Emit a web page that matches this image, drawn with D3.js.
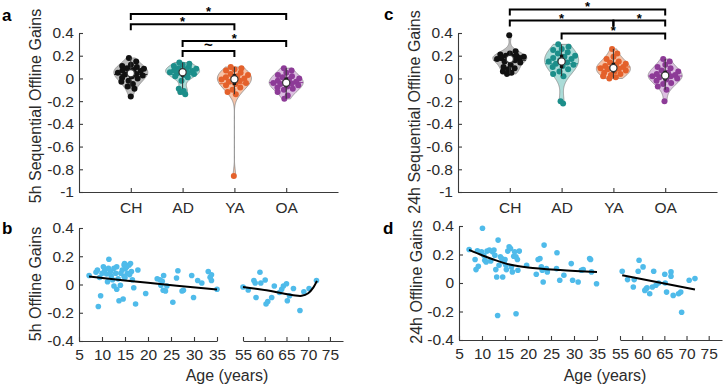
<!DOCTYPE html>
<html>
<body>
<script src="https://d3js.org/d3.v7.min.js"></script>
<style>
  body { margin:0; background:#fff; }
  svg text { font-family:"Liberation Sans", Arial, sans-serif; fill:#2b2b2b; }
  .axis path, .axis line { stroke:#3a3a3a; stroke-width:1.1px; }
  .axis text { font-size:15.5px; }
  .lbl { font-size:16px; }
  .letter { font-size:17px; font-weight:bold; fill:#000; }
</style>
<script>
// groups and colours
var groups = ['CH', 'AD', 'YA', 'OA'];
var dotColors = ['#111111', '#1c8e8a', '#e4612b', '#8d3b97'];
var fillColors = ['#bdbdbd', '#abdcd8', '#f6c3a8', '#dcbfe1'];

// 5h sequential offline gains per group
var ch5 = [0.18,0.15,0.12,0.11,0.10,0.09,0.085,0.075,0.07,0.065,0.055,0.05,0.04,0.035,0.025,0.02,0.005,0,-0.02,-0.03,-0.05,-0.07,-0.09,-0.16];
var ad5 = [0.14,0.13,0.12,0.11,0.10,0.09,0.085,0.08,0.07,0.065,0.06,0.055,0.05,0.045,0.04,0.03,0.02,0.01,-0.02,-0.09,-0.11,-0.12,-0.14];
var ya5 = [0.10,0.09,0.08,0.07,0.05,0.04,0.03,0.02,0.01,0.0,-0.005,-0.01,-0.02,-0.03,-0.04,-0.05,-0.06,-0.08,-0.10,-0.12,-0.14,-0.86];
var oa5 = [0.09,0.07,0.05,0.03,0.02,0.01,0,-0.01,-0.02,-0.03,-0.035,-0.04,-0.045,-0.05,-0.06,-0.07,-0.08,-0.09,-0.10,-0.12,-0.15,-0.18];

// 24h sequential offline gains per group
var ch24 = [0.38,0.24,0.22,0.21,0.20,0.20,0.19,0.19,0.18,0.18,0.17,0.17,0.16,0.15,0.14,0.12,0.10,0.09,0.08,0.06,0.05,0.04];
var ad24 = [0.30,0.28,0.26,0.25,0.23,0.22,0.20,0.19,0.18,0.17,0.16,0.15,0.14,0.13,0.12,0.11,0.10,0.08,0.06,0.04,0.02,-0.20,-0.22];
var ya24 = [0.26,0.22,0.19,0.17,0.15,0.14,0.13,0.12,0.11,0.10,0.095,0.09,0.085,0.08,0.07,0.06,0.05,0.04,0.03,0.02,0.01,0.0];
var oa24 = [0.17,0.15,0.12,0.10,0.09,0.07,0.06,0.05,0.04,0.03,0.03,0.02,0.02,0.01,0.0,-0.01,-0.02,-0.04,-0.05,-0.07,-0.10,-0.20];

// significance brackets: [from group, to group, bracket height, label]
var sig5 = [[0,3,0.567,'*'], [0,2,0.477,'*'], [1,3,0.33,'*'], [1,2,0.242,'~']];
var sig24 = [[0,3,0.608,'*'], [0,2,0.51,'*'], [2,3,0.51,'*'], [1,3,0.396,'*']];

// age scatter, 5h
var age5 = [7.2,8.7,9.0,9.7,9.2,10.3,10.6,11.0,11.4,11.5,11.9,12.3,12.6,13.0,13.2,12.6,13.2,13.7,14.6,14.1,
  14.4,14.8,14.9,15.1,15.4,15.5,15.9,16.2,16.4,14.8,16.9,17.3,16.6,17.8,19.5,22.0,22.6,22.8,23.1,23.3,
  23.4,23.8,24.1,26.5,26.2,25.4,27.4,27.7,29.5,29.9,30.8,31.7,33.1,33.5,33.8,33.8,35.0,
  9.5,10.0,12.0,13.5,15.0,16.0,11.2,14.0,
  55.0,56.2,57.5,57.8,58.0,58.9,59.1,60.1,60.3,60.7,61.6,62.2,63.4,63.9,64.3,65.0,65.2,65.7,66.6,68.1,69.0,70.2,71.9];
var gain5 = [0.064,0.087,0.103,-0.08,-0.156,0.126,0.099,0.074,0.115,0.179,0.092,0.034,0.115,0.08,0.126,-0.011,-0.034,-0.115,-0.103,0.08,
  0.103,0.138,0.149,0.115,0.126,0.08,0.138,0.149,0.092,0.057,-0.023,-0.138,0.034,0.103,-0.064,0.041,0.034,-0.005,0.023,-0.041,
  0.064,-0.046,-0.011,0.097,0.046,-0.126,-0.046,-0.041,0.064,-0.092,0.028,0.011,0.092,0.051,0.069,0.028,-0.034,
  0.05,0.08,0.06,0.04,0.05,0.07,0.02,-0.005,
  -0.018,-0.039,0.028,0.011,-0.092,0.087,0.011,0.032,-0.138,-0.12,-0.092,-0.011,-0.057,-0.034,-0.011,0.005,-0.115,-0.08,-0.028,-0.184,-0.051,-0.028,0.028];

// age scatter, 24h
var age24 = [7.2,8.5,8.7,9.2,9.0,10.1,9.9,10.4,10.6,10.9,11.1,11.6,11.9,12.3,12.6,12.8,13.0,13.2,13.5,13.4,
  13.7,14.0,14.3,14.5,14.8,15.0,15.2,15.3,15.6,15.9,16.2,16.4,16.6,16.9,17.1,17.4,17.4,17.7,17.8,18.1,
  19.7,21.8,22.2,22.6,22.9,23.1,23.3,23.5,24.0,24.2,26.2,26.3,26.9,27.8,29.4,29.7,30.9,31.6,32.0,33.4,33.6,33.8,34.9,
  55.5,56.7,58.0,58.2,59.3,59.1,60.2,60.6,60.9,61.1,61.7,62.3,62.6,63.1,63.7,65.1,65.2,65.5,66.5,66.5,67.0,68.2,68.7,68.9,70.6,71.9];
var gain24 = [0.235,0.165,0.094,0.118,0.226,0.384,0.219,0.195,0.16,0.148,0.224,0.231,0.155,0.219,0.231,0.195,0.094,0.042,0.301,-0.228,
  0.125,0.184,0.172,0.042,0.148,0.165,0.125,0.094,0.224,0.254,0.242,0.113,0.078,0.188,0.219,0.184,-0.216,0.165,0.089,0.224,
  0.125,0.061,0.165,0.172,0.113,0.089,0.007,0.266,0.101,0.078,0.101,0.212,0.019,0.054,0.136,0.019,0.007,0.089,0.094,0.172,0.165,0.078,-0.005,
  0.082,0.024,-0.028,0.024,0.16,0.082,0.113,-0.052,-0.04,-0.033,-0.075,-0.028,0.082,-0.016,0.0,0.061,0.0,-0.064,0.078,0.047,-0.087,-0.075,-0.064,-0.205,0.019,0.031];

// fitted curves [age, gain]
var fit5young = [[7.2,0.056],[20,0.012],[35,-0.036]];
var fit5old = [[55,-0.018],[60.4,-0.041],[64.3,-0.064],[66.6,-0.076],[68.5,-0.08],[70,-0.062],[71.2,-0.02],[72,0.026]];
var fit24young = [[7.2,0.232],[10,0.195],[12.5,0.165],[16,0.13],[20,0.109],[27,0.091],[35,0.077]];
var fit24old = [[55.5,0.054],[71.9,-0.045]];

var violinTicks = [0.4,0.2,0,-0.2,-0.4,-0.6,-0.8,-1];
var scatterTicks = [0.4,0.2,0,-0.2,-0.4];
var ageTicksYoung = [5,10,15,20,25,30,35];
var ageTicksOld = [55,60,65,70,75];

var svg = d3.select('body').append('svg')
  .attr('width', 725)
  .attr('height', 388);

function fmt(d) { return String(d); }

// ksdensity-style normal bandwidth, widened a little for a smoother outline
function bandwidth(vals) {
  var m = d3.median(vals);
  var mad = d3.median(vals, v => Math.abs(v - m));
  return 1.35 * mad / 0.6745 * Math.pow(4 / (3 * vals.length), 0.2);
}

function violinPanel(opt) {
  var x = d3.scaleLinear().domain([0, 5]).range([opt.x0, opt.x1]);
  var y = d3.scaleLinear().domain([-1, 0.4]).range([opt.y1, opt.y0]);
  var g = svg.append('g');

  g.append('g').attr('class', 'axis')
    .attr('transform', `translate(${opt.x0},0)`)
    .call(d3.axisLeft(y).tickValues(violinTicks).tickFormat(fmt)
      .tickSizeInner(-4).tickSizeOuter(0).tickPadding(5));
  g.append('g').attr('class', 'axis')
    .attr('transform', `translate(0,${opt.y1})`)
    .call(d3.axisBottom(x).tickValues([1,2,3,4]).tickFormat((d, i) => groups[i])
      .tickSizeInner(-4).tickSizeOuter(0).tickPadding(10));

  opt.data.forEach((vals, gi) => {
    var cx = x(gi + 1);
    var bw = bandwidth(vals);
    var lo = d3.min(vals), hi = d3.max(vals);
    var dens = v => d3.mean(vals, u => Math.exp(-0.5 * Math.pow((v - u) / bw, 2)));
    var grid = d3.range(121).map(i => lo + (hi - lo) * i / 120);
    var dmax = d3.max(grid, dens);
    var halfW = v => dens(v) / dmax * 17;
    var pts = grid.map(v => [cx + halfW(v), y(v)])
      .concat(grid.slice().reverse().map(v => [cx - halfW(v), y(v)]));
    g.append('path')
      .attr('d', d3.line()(pts) + 'Z')
      .attr('fill', fillColors[gi])
      .attr('stroke', '#8a8a8a')
      .attr('stroke-width', 0.8);

    // jittered points
    g.selectAll(null).data(vals).enter().append('circle')
      .attr('cx', (v, i) => cx + (((i * 0.618034 + 0.27) % 1) * 2 - 1) * halfW(v) * 0.88)
      .attr('cy', v => y(v))
      .attr('r', 3)
      .attr('fill', dotColors[gi]);

    // mean line
    var mean = d3.mean(vals);
    g.append('line')
      .attr('x1', cx - halfW(mean)).attr('x2', cx + halfW(mean))
      .attr('y1', y(mean)).attr('y2', y(mean))
      .attr('stroke', dotColors[gi]).attr('stroke-width', 1);

    var s = vals.slice().sort(d3.ascending);
    var q1 = d3.quantile(s, 0.25), q3 = d3.quantile(s, 0.75), med = d3.quantile(s, 0.5);
    var iqr = q3 - q1;
    var wLo = d3.min(s.filter(v => v >= q1 - 1.5 * iqr));
    var wHi = d3.max(s.filter(v => v <= q3 + 1.5 * iqr));
    g.append('line')
      .attr('x1', cx).attr('x2', cx).attr('y1', y(wLo)).attr('y2', y(wHi))
      .attr('stroke', '#333').attr('stroke-width', 1);
    g.append('rect')
      .attr('x', cx - 1.7).attr('width', 3.4)
      .attr('y', y(q3)).attr('height', y(q1) - y(q3))
      .attr('fill', '#111');
    g.append('circle')
      .attr('cx', cx).attr('cy', y(med)).attr('r', 3.6)
      .attr('fill', '#fff').attr('stroke', '#333').attr('stroke-width', 1.2);
  });

  // significance brackets
  opt.sig.forEach(s => {
    var xa = x(s[0] + 1), xb = x(s[1] + 1), yy = y(s[2]);
    g.append('path')
      .attr('d', `M${xa},${yy + 6}V${yy}H${xb}V${yy + 6}`)
      .attr('fill', 'none').attr('stroke', '#000').attr('stroke-width', 2);
    g.append('text')
      .attr('x', (xa + xb) / 2).attr('y', s[3] === '~' ? yy - 1 : yy + 2)
      .attr('text-anchor', 'middle')
      .style('font-size', s[3] === '~' ? '15px' : '13px')
      .style('font-weight', 'bold')
      .style('fill', '#000')
      .text(s[3]);
  });

  g.append('text').attr('class', 'lbl')
    .attr('transform', `translate(${opt.labX},${opt.labY}) rotate(-90)`)
    .attr('text-anchor', 'middle')
    .text(opt.ylabel);
  g.append('text').attr('class', 'letter')
    .attr('x', opt.letX).attr('y', opt.letY).text(opt.letter);
}

function scatterPanel(opt) {
  var y = d3.scaleLinear().domain([-0.4, 0.4]).range([opt.y1, opt.y0]);
  var xa = d3.scaleLinear().domain([5, 35]).range([opt.xa0, opt.xa1]);
  var xb = d3.scaleLinear().domain([55, 78]).range([opt.xb0, opt.xb1]);
  var xs = a => a < 45 ? xa(a) : xb(a);
  var g = svg.append('g');

  g.append('g').attr('class', 'axis')
    .attr('transform', `translate(${opt.xa0},0)`)
    .call(d3.axisLeft(y).tickValues(scatterTicks).tickFormat(fmt)
      .tickSizeInner(-4).tickSizeOuter(0).tickPadding(5));
  g.append('g').attr('class', 'axis')
    .attr('transform', `translate(0,${opt.y1})`)
    .call(d3.axisBottom(xa).tickValues(ageTicksYoung).tickFormat(fmt)
      .tickSizeInner(-4).tickSizeOuter(0).tickPadding(8));
  g.append('g').attr('class', 'axis')
    .attr('transform', `translate(0,${opt.y1})`)
    .call(d3.axisBottom(xb).tickValues(ageTicksOld).tickFormat(fmt)
      .tickSizeInner(-4).tickSizeOuter(0).tickPadding(8));

  g.selectAll(null).data(opt.ages).enter().append('circle')
    .attr('cx', d => xs(d))
    .attr('cy', (d, i) => y(opt.gains[i]))
    .attr('r', 2.8)
    .attr('fill', '#4fbbea');

  var line = d3.line().x(d => xs(d[0])).y(d => y(d[1])).curve(d3.curveCatmullRom);
  opt.fits.forEach(f => {
    g.append('path').attr('d', line(f))
      .attr('fill', 'none').attr('stroke', '#000').attr('stroke-width', 2);
  });

  g.append('text').attr('class', 'lbl')
    .attr('transform', `translate(${opt.labX},${opt.labY}) rotate(-90)`)
    .attr('text-anchor', 'middle')
    .text(opt.ylabel);
  g.append('text').attr('class', 'lbl')
    .attr('x', opt.ageX).attr('y', 381)
    .attr('text-anchor', 'middle')
    .text('Age (years)');
  g.append('text').attr('class', 'letter')
    .attr('x', opt.letX).attr('y', opt.letY).text(opt.letter);
}

violinPanel({x0: 79, x1: 338, y0: 33, y1: 192, data: [ch5, ad5, ya5, oa5], sig: sig5,
  ylabel: '5h Sequential Offline Gains', labX: 41, labY: 106, letter: 'a', letX: 2, letY: 21});
violinPanel({x0: 458, x1: 717, y0: 33, y1: 192, data: [ch24, ad24, ya24, oa24], sig: sig24,
  ylabel: '24h Sequential Offline Gains', labX: 420, labY: 112, letter: 'c', letX: 384, letY: 20});

scatterPanel({xa0: 79, xa1: 217, xb0: 243, xb1: 343, y0: 228, y1: 341,
  ages: age5, gains: gain5, fits: [fit5young, fit5old],
  ylabel: '5h Offline Gains', labX: 41, labY: 284, ageX: 227, letter: 'b', letX: 2, letY: 234});
scatterPanel({xa0: 459, xa1: 597, xb0: 620, xb1: 722, y0: 226, y1: 340,
  ages: age24, gains: gain24, fits: [fit24young, fit24old],
  ylabel: '24h Offline Gains', labX: 422, labY: 282, ageX: 605, letter: 'd', letX: 383, letY: 234});
</script>
</body>
</html>
